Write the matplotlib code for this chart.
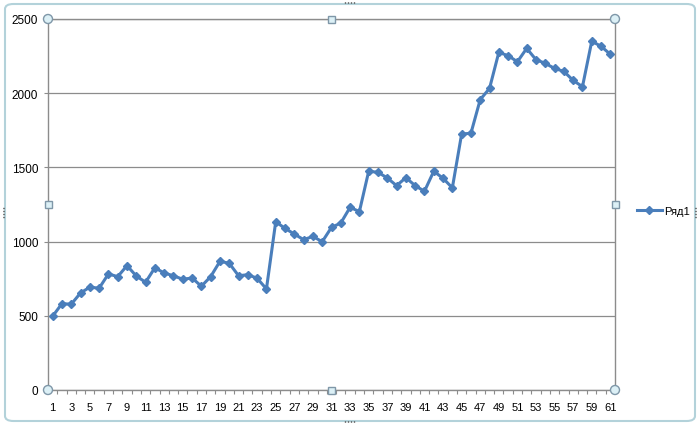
import numpy as np
import matplotlib
matplotlib.use('Agg')
import matplotlib.pyplot as plt
from matplotlib.patches import FancyBboxPatch, Circle, Rectangle

plt.rcParams['font.family'] = ['Liberation Sans', 'DejaVu Sans']

# данные ряда
x_vals = list(range(1, 62))
ryad1 = [497, 582, 578, 654, 693, 686, 782, 764, 838, 768,
         726, 824, 788, 770, 746, 755, 699, 764, 867, 854,
         770, 777, 753, 681, 1134, 1089, 1051, 1013, 1035, 999,
         1096, 1125, 1231, 1202, 1474, 1467, 1429, 1377, 1431, 1377,
         1339, 1474, 1427, 1362, 1725, 1730, 1957, 2032, 2275, 2253,
         2212, 2302, 2226, 2201, 2167, 2147, 2086, 2044, 2350, 2316,
         2262]
y_ticks = [0, 500, 1000, 1500, 2000, 2500]
series_name = 'Ряд1'

W, H = 700, 427
fig = plt.figure(figsize=(7, 4.27), dpi=100)

# рамка области диаграммы
frame = FancyBboxPatch((5 / W, 5 / H), 690 / W, 417 / H,
                       boxstyle='round,pad=0,rounding_size=0.012',
                       transform=fig.transFigure, fc='white', ec='#b3d2da', lw=1.5,
                       zorder=-5)
fig.patches.append(frame)

left, right, bottom, top = 48 / W, 615 / W, (H - 391) / H, (H - 20) / H
ax = fig.add_axes([left, bottom, right - left, top - bottom])
ax.patch.set_alpha(0)

blue = '#4a7ebb'
grey = '#8c8c8c'
ax.plot(x_vals, ryad1, color=blue, lw=2.2, marker='D', ms=4.5,
        markeredgecolor=blue, label=series_name)

ax.set_xlim(0.5, 61.5)
ax.set_ylim(0, 2500)
ax.set_yticks(y_ticks)
ax.set_yticklabels([str(v) for v in y_ticks])
ax.yaxis.grid(True, color=grey, lw=0.9)
ax.set_axisbelow(True)

ax.set_xticks(x_vals[::2])
ax.set_xticklabels([str(v) for v in x_vals[::2]])
ax.set_xticks(np.arange(0.5, 62, 1), minor=True)
ax.tick_params(axis='x', which='major', length=0, pad=9, labelsize=8)
ax.tick_params(axis='x', which='minor', length=3, color=grey, width=0.8)
ax.tick_params(axis='y', length=3, color=grey, width=0.8, pad=4, labelsize=8.5)

for s in ax.spines.values():
    s.set_color(grey)
    s.set_linewidth(1.0)

leg = ax.legend(loc='center left', bbox_to_anchor=(631 / W, (H - 212) / H),
                bbox_transform=fig.transFigure, frameon=False, fontsize=8,
                handlelength=2.3, handletextpad=0.15, borderpad=0)

# маркеры выделения области построения
hx = [left, (left + right) / 2, right]
hy = [bottom, (bottom + top) / 2, top]
for i, px in enumerate(hx):
    for j, py in enumerate(hy):
        if i == 1 and j == 1:
            continue
        if i != 1 and j != 1:
            p = Circle((px * W, py * H), 4.5, transform=None)
        else:
            p = Rectangle((px * W - 3.5, py * H - 3.5), 7, 7, transform=None)
        p.set_facecolor('#dcf0f6')
        p.set_edgecolor('#7f97a8')
        p.set_linewidth(1.0)
        p.set_zorder(10)
        fig.patches.append(p)

# точки-маркеры рамки диаграммы
for cx, cy in [(350, 423), (350, 4), (4, 213), (696, 213)]:
    for k in range(-2, 2):
        if cy in (423, 4):
            dx, dy = cx + k * 3 + 1.5, cy
        else:
            dx, dy = cx, cy + k * 3 + 1.5
        d = Circle((dx, dy), 0.8, transform=None, fc='#555555', ec='none', zorder=10)
        fig.patches.append(d)

fig.savefig('out.png', dpi=100)
